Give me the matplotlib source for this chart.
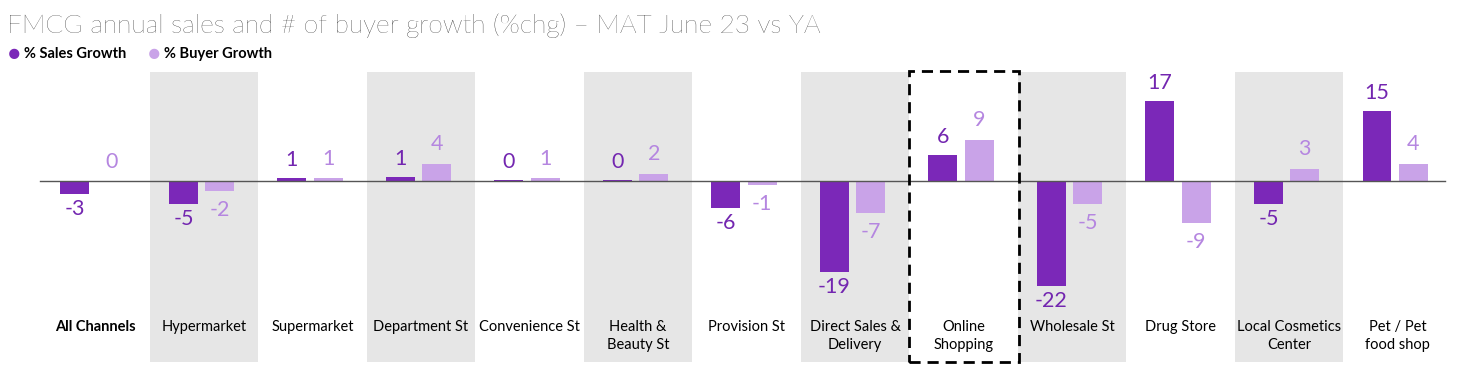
import numpy as np
import matplotlib.pyplot as plt
from matplotlib.patches import Rectangle

plt.rcParams['font.family'] = ['Lato', 'DejaVu Sans']

# data
channels = ['All Channels', 'Hypermarket', 'Supermarket', 'Department St', 'Convenience St',
            'Health &\nBeauty St', 'Provision St', 'Direct Sales &\nDelivery', 'Online\nShopping',
            'Wholesale St', 'Drug Store', 'Local Cosmetics\nCenter', 'Pet / Pet\nfood shop']
sales_growth = [-2.7, -4.8, 0.6, 0.9, 0.2, 0.2, -5.7, -19.0, 5.5, -22.0, 16.8, -4.8, 14.7]
buyer_growth = [0.0, -2.1, 0.6, 3.6, 0.6, 1.5, -0.8, -6.7, 8.7, -4.8, -8.8, 2.6, 3.6]
shaded = ['Hypermarket', 'Department St', 'Health &\nBeauty St', 'Direct Sales &\nDelivery',
          'Wholesale St', 'Local Cosmetics\nCenter']
highlight = 'Online\nShopping'

dark = '#7B28B8'
light = '#C9A3E8'
dark_txt = '#7326B0'
light_txt = '#B586E0'

fig = plt.figure(figsize=(14.79, 3.68), dpi=100)
ax = fig.add_axes([0, 0, 1, 1])
ax.set_xlim(-0.88, 12.75)
ax.set_ylim(-39.2, 37.95)
ax.axis('off')

x = np.arange(len(channels))
shade_top, shade_bot = 22.85, -37.95

for i, c in enumerate(channels):
    if c in shaded:
        ax.add_patch(Rectangle((i - 0.5, shade_bot), 1.0, shade_top - shade_bot,
                               facecolor='#E6E6E6', edgecolor='none', zorder=0))
    if c == highlight:
        ax.add_patch(Rectangle((i - 0.5, shade_bot), 1.01, shade_top - shade_bot + 0.2,
                               facecolor='none', edgecolor='black', lw=2,
                               linestyle=(0, (4, 2.5)), zorder=5))

bw = 0.267
ax.bar(x - 0.19, sales_growth, width=bw, color=dark, zorder=2)
ax.bar(x + 0.145, buyer_growth, width=bw, color=light, zorder=2)
ax.plot([-0.51, 12.44], [0, 0], color='#555555', lw=1, zorder=3)

for i in range(len(channels)):
    s = sales_growth[i]
    b = buyer_growth[i]
    off = 13 if s >= 0 else -11
    ax.annotate(f'{round(s):d}', (x[i] - 0.19, s), xytext=(0, off), textcoords='offset points',
                ha='center', va='center', fontsize=15.5, color=dark_txt, zorder=4)
    off = 14 if b >= 0 else -14
    ax.annotate(f'{round(b):d}', (x[i] + 0.145, b), xytext=(0, off), textcoords='offset points',
                ha='center', va='center', fontsize=15.5, color=light_txt, zorder=4)
    ax.text(x[i], -29.2, channels[i], ha='center', va='top', fontsize=10.5,
            color='black', linespacing=1.3,
            fontweight='bold' if i == 0 else 'normal', zorder=4)

# title and legend
fig.text(0.005, 0.93, 'FMCG annual sales and # of buyer growth (%chg) \u2013 MAT June 23 vs YA',
         fontsize=19, fontweight='light', color='black', va='center')
fig.text(0.0095, 0.853, '\u25cf', fontsize=15, color=dark, va='center', ha='center')
fig.text(0.0163, 0.853, '% Sales Growth', fontsize=10.5, fontweight='bold', va='center')
fig.text(0.1042, 0.853, '\u25cf', fontsize=15, color=light, va='center', ha='center')
fig.text(0.111, 0.853, '% Buyer Growth', fontsize=10.5, fontweight='bold', va='center')

fig.savefig('out.png', dpi=100)
